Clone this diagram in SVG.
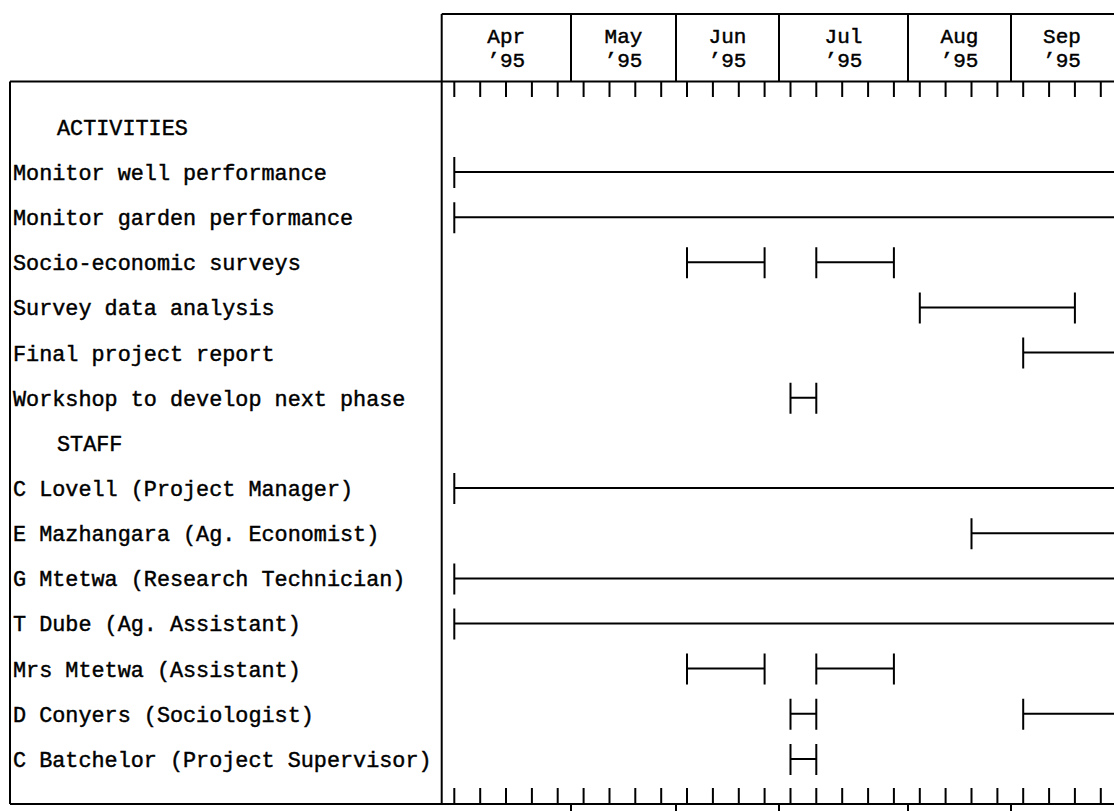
<svg xmlns="http://www.w3.org/2000/svg" width="1114" height="811" viewBox="0 0 1114 811">
<style>
.ln{stroke:#000;stroke-width:2;fill:none;stroke-linecap:butt}
.tk{stroke:#000;stroke-width:2;fill:none}
.bar{stroke:#000;stroke-width:2;fill:none}
.t{font-family:"Liberation Mono","Courier New",monospace;font-size:21.8px;fill:#000;stroke:#000;stroke-width:0.45}
.h{font-family:"Liberation Mono","Courier New",monospace;font-size:21px;fill:#000;stroke:#000;stroke-width:0.45;text-anchor:middle}
</style>
<rect width="1114" height="811" fill="#fff"/>
<g id="frame">
<path class="ln" d="M441.7 14H1114M10 81.5H1114M10 804H1114M10 81.5V804M441.7 14V804"/>
<path class="ln" d="M571 14V81.5M676 14V81.5M779 14V81.5M908 14V81.5M1011 14V81.5"/>
<path class="ln" d="M571 804V811M676 804V811M779 804V811M908 804V811M1011 804V811"/>
</g>
<g id="ticks">
<path class="tk" d="M454.3 81v16M480.2 81v16M506 81v16M531.9 81v16M557.7 81v16M583.6 81v16M609.5 81v16M635.3 81v16M661.2 81v16M687 81v16M712.9 81v16M738.8 81v16M764.6 81v16M790.5 81v16M816.3 81v16M842.2 81v16M868.1 81v16M893.9 81v16M919.8 81v16M945.6 81v16M971.5 81v16M997.4 81v16M1023.2 81v16M1049.1 81v16M1074.9 81v16M1100.8 81v16"/>
<path class="tk" d="M454.3 788v16M480.2 788v16M506 788v16M531.9 788v16M557.7 788v16M583.6 788v16M609.5 788v16M635.3 788v16M661.2 788v16M687 788v16M712.9 788v16M738.8 788v16M764.6 788v16M790.5 788v16M816.3 788v16M842.2 788v16M868.1 788v16M893.9 788v16M919.8 788v16M945.6 788v16M971.5 788v16M997.4 788v16M1023.2 788v16M1049.1 788v16M1074.9 788v16M1100.8 788v16"/>
</g>
<g id="months">
<text class="h" x="506.2" y="43">Apr</text><text class="h" x="506.2" y="67">’95</text>
<text class="h" x="623.5" y="43">May</text><text class="h" x="623.5" y="67">’95</text>
<text class="h" x="727.5" y="43">Jun</text><text class="h" x="727.5" y="67">’95</text>
<text class="h" x="843.5" y="43">Jul</text><text class="h" x="843.5" y="67">’95</text>
<text class="h" x="959.5" y="43">Aug</text><text class="h" x="959.5" y="67">’95</text>
<text class="h" x="1062" y="43">Sep</text><text class="h" x="1062" y="67">’95</text>
</g>
<g id="labels">
<text class="t" x="57" y="135">ACTIVITIES</text>
<text class="t" x="13" y="180">Monitor well performance</text>
<text class="t" x="13" y="225">Monitor garden performance</text>
<text class="t" x="13" y="270">Socio-economic surveys</text>
<text class="t" x="13" y="315">Survey data analysis</text>
<text class="t" x="13" y="361">Final project report</text>
<text class="t" x="13" y="406">Workshop to develop next phase</text>
<text class="t" x="57" y="451">STAFF</text>
<text class="t" x="13" y="496">C Lovell (Project Manager)</text>
<text class="t" x="13" y="541">E Mazhangara (Ag. Economist)</text>
<text class="t" x="13" y="586">G Mtetwa (Research Technician)</text>
<text class="t" x="13" y="631">T Dube (Ag. Assistant)</text>
<text class="t" x="13" y="677">Mrs Mtetwa (Assistant)</text>
<text class="t" x="13" y="722">D Conyers (Sociologist)</text>
<text class="t" x="13" y="767">C Batchelor (Project Supervisor)</text>
</g>
<g id="bars">
<path id="b-well" class="bar" d="M454.3 157v31M454.3 172H1114"/>
<path id="b-garden" class="bar" d="M454.3 202.2v31M454.3 217.2H1114"/>
<path id="b-socio" class="bar" d="M687 247.3v31M687 262.3H764.6M764.6 247.3v31M816.3 247.3v31M816.3 262.3H893.9M893.9 247.3v31"/>
<path id="b-survey" class="bar" d="M919.8 292.5v31M919.8 307.5H1074.9M1074.9 292.5v31"/>
<path id="b-final" class="bar" d="M1023.2 337.6v31M1023.2 352.6H1114"/>
<path id="b-workshop" class="bar" d="M790.5 382.8v31M790.5 397.8H816.3M816.3 382.8v31"/>
<path id="b-lovell" class="bar" d="M454.3 473v31M454.3 488H1114"/>
<path id="b-mazhangara" class="bar" d="M971.5 518.2v31M971.5 533.2H1114"/>
<path id="b-mtetwa" class="bar" d="M454.3 563.4v31M454.3 578.4H1114"/>
<path id="b-dube" class="bar" d="M454.3 608.5v31M454.3 623.5H1114"/>
<path id="b-mrsmtetwa" class="bar" d="M687 653.6v31M687 668.6H764.6M764.6 653.6v31M816.3 653.6v31M816.3 668.6H893.9M893.9 653.6v31"/>
<path id="b-conyers" class="bar" d="M790.5 698.8v31M790.5 713.8H816.3M816.3 698.8v31M1023.2 698.8v31M1023.2 713.8H1114"/>
<path id="b-batchelor" class="bar" d="M790.5 744v31M790.5 759H816.3M816.3 744v31"/>
</g>
</svg>
